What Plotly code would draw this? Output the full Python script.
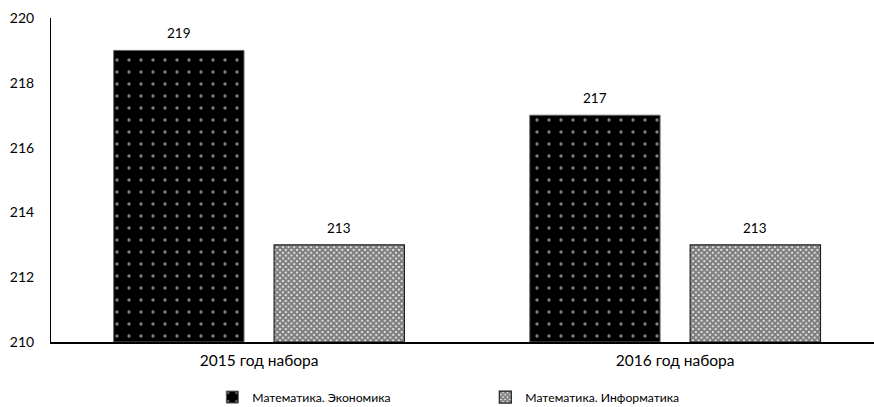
import plotly.graph_objects as go

categories = ["2015 год набора", "2016 год набора"]
econ = [219, 217]
inf = [213, 213]
series_names = ["Математика. Экономика", "Математика. Информатика"]
y_base = 210

FONT = "Lato"
BARGAP = 0.229
BARGROUPGAP = 0.1875

fig = go.Figure()
fig.add_trace(go.Bar(
    x=categories, y=[v - y_base for v in econ], base=y_base, name=series_names[0],
    marker=dict(color="black", line=dict(color="#666", width=1),
                pattern=dict(shape=".", bgcolor="black", fgcolor="white", size=12, solidity=0.06, fillmode="overlay")),
))
fig.add_trace(go.Bar(
    x=categories, y=[v - y_base for v in inf], base=y_base, name=series_names[1],
    marker=dict(color="white", line=dict(color="#222", width=1.2),
                pattern=dict(shape="x", bgcolor="white", fgcolor="#000", size=4, solidity=0.8, fillmode="overlay")),
))

# value labels above bars
slot = (1 - BARGAP) / 2
for i, series in enumerate([econ, inf]):
    for j, v in enumerate(series):
        fig.add_annotation(x=j + (i - 0.5) * slot, y=v, text=str(v), showarrow=False,
                           yanchor="bottom", yshift=7, font=dict(size=13.5, color="black", family=FONT))

fig.update_layout(
    width=874, height=407,
    margin=dict(l=51, r=0, t=18, b=65, autoexpand=False),
    paper_bgcolor="white", plot_bgcolor="white",
    font=dict(family=FONT, size=13, color="black"),
    barmode="group", bargap=BARGAP, bargroupgap=BARGROUPGAP,
    showlegend=True,
    legend=dict(orientation="h", x=0.196, xanchor="left", y=-0.17, yanchor="middle",
                font=dict(size=12.2), itemwidth=30, traceorder="normal", tracegroupgap=0,
                entrywidth=228, entrywidthmode="pixels"),
)
fig.update_yaxes(range=[210, 220], dtick=2, showgrid=False, zeroline=False,
                 showline=True, linecolor="black", linewidth=1, ticks="",
                 ticklabelstandoff=13, tickfont=dict(size=14))
fig.update_xaxes(range=[-0.5, 1.478], showgrid=False, showline=True, linecolor="black", linewidth=1.5, ticks="",
                 ticklabelstandoff=4, tickfont=dict(size=15.5))

fig.write_html("out.html")
